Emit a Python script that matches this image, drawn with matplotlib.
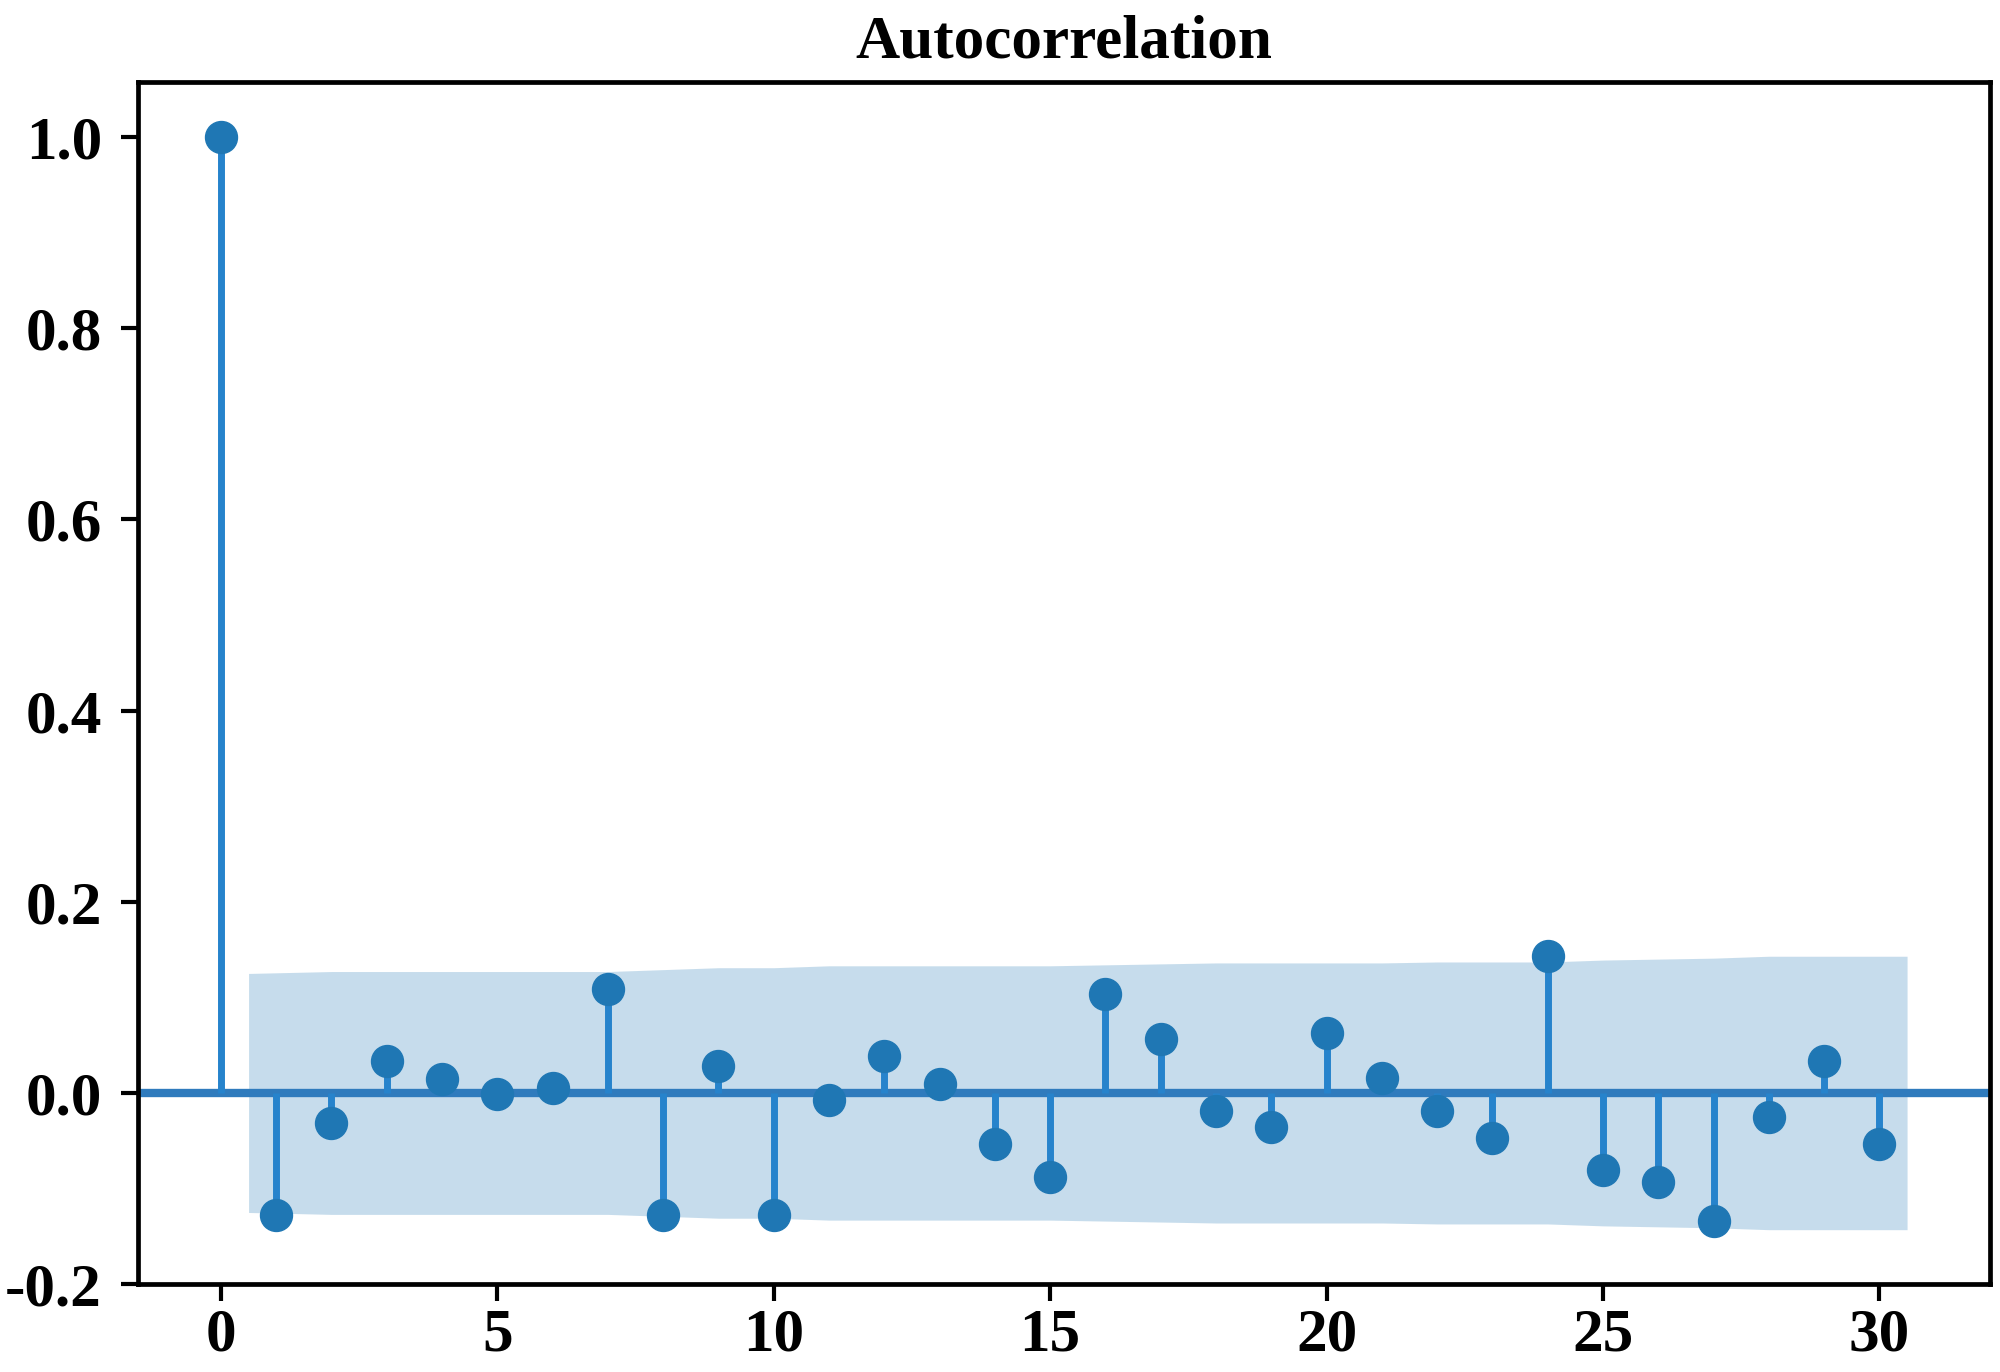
import numpy as np
import matplotlib.pyplot as plt

plt.rcParams['font.family'] = ['Liberation Serif', 'DejaVu Serif']
plt.rcParams['font.weight'] = 'bold'

# autocorrelation values, lags 0..30
lags = np.arange(31)
acf = [1.0, -0.128, -0.031, 0.033, 0.015, -0.001, 0.005, 0.109, -0.128, 0.028,
       -0.128, -0.007, 0.039, 0.009, -0.053, -0.088, 0.103, 0.056, -0.019, -0.036,
       0.063, 0.016, -0.019, -0.047, 0.143, -0.081, -0.093, -0.134, -0.025, 0.033,
       -0.053]
# half width of the 95% confidence band, lags 1..30
band = [0.125, 0.127, 0.127, 0.127, 0.127, 0.127, 0.127, 0.129, 0.131, 0.131,
        0.133, 0.133, 0.133, 0.133, 0.133, 0.134, 0.135, 0.136, 0.136, 0.136,
        0.136, 0.137, 0.137, 0.137, 0.139, 0.140, 0.141, 0.143, 0.143, 0.143]

col = '#1f77b4'

fig = plt.figure(figsize=(20, 13.72), dpi=100)
ax = fig.add_axes([0.069, 0.064, 0.926, 0.876])

bx = np.arange(1, 31).astype(float)
bx[0] -= 0.5
bx[-1] += 0.5
band = np.array(band)
ax.fill_between(bx, -band, band, color=col, alpha=0.25, linewidth=0)

ax.axhline(0, color='#2f7bbd', linewidth=6, zorder=1)
ax.vlines(lags, 0, acf, color='#2683cc', linewidth=5, zorder=2)
ax.plot(lags, acf, 'o', color=col, markersize=23, zorder=3)

ax.set_xlim(-1.5, 32)
ax.set_ylim(-0.2, 1.057)
ax.set_xticks([0, 5, 10, 15, 20, 25, 30])
ax.set_yticks([-0.2, 0.0, 0.2, 0.4, 0.6, 0.8, 1.0])
ax.set_yticklabels(['-0.2', '0.0', '0.2', '0.4', '0.6', '0.8', '1.0'])
ax.tick_params(labelsize=44, width=3, length=12)
ax.tick_params(axis='y', pad=14)
ax.tick_params(axis='x', pad=5)
for s in ax.spines.values():
    s.set_linewidth(3.4)
ax.set_title('Autocorrelation', fontsize=44, fontweight='bold', pad=18)

plt.savefig('out.png')
